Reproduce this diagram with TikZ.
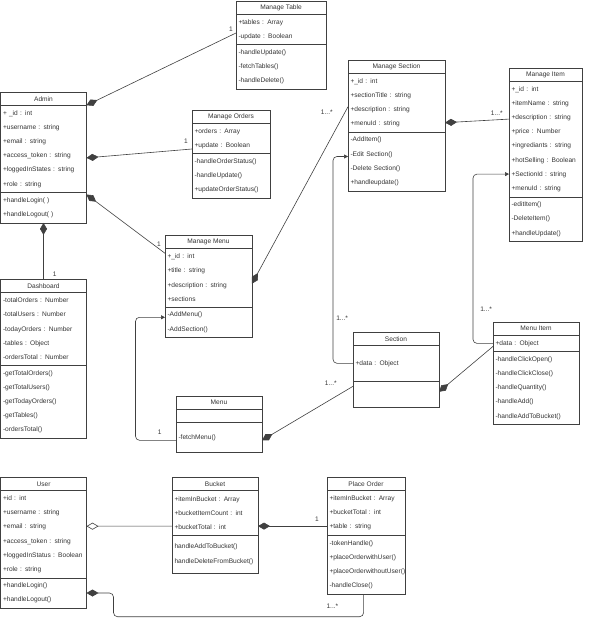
\documentclass[tikz,border=0pt]{standalone}
\usepackage{fontspec}
\setmainfont{Liberation Sans}
\usetikzlibrary{positioning, arrows.meta}

% one class box: name, top left, width, title, attr height, attrs, method height, methods
\newcommand{\umlclass}[8]{%
  \pgfmathsetlengthmacro{\clstw}{#3-5}%
  \node[clshead, minimum width=#3pt] (#1) at (#2) {#4};
  \node[clspart, text width=\clstw, minimum height=#5pt, below=0pt of #1] (#1-attr) {#6};
  \node[clspart, text width=\clstw, minimum height=#7pt, below=0pt of #1-attr] (#1-meth) {#8};
}

\begin{document}
\begin{tikzpicture}[x=1pt, y=-1pt,
  every node/.style={font=\fontsize{6.6}{14.2}\selectfont, text=black!80},
  clshead/.style={draw=black!75, line width=0.6pt, anchor=north west,
    minimum height=13.3pt, inner sep=0pt, outer sep=0pt},
  clspart/.style={draw=black!75, line width=0.6pt, align=left,
    inner xsep=2.5pt, inner ysep=0pt, outer sep=0pt},
  lbl/.style={inner sep=1pt},
  comp/.style={{Diamond[length=12pt, width=7pt]}-, draw=black!75, line width=0.6pt},
  aggr/.style={{Diamond[open, length=12pt, width=7pt]}-, draw=black!75, line width=0.6pt},
  assoc/.style={-{Triangle[length=4pt, width=4pt]}, draw=black!75, line width=0.6pt,
    rounded corners=4pt}
]
\useasboundingbox (0,0) rectangle (595,631);

\umlclass{admin}{0.5,92}{86}{Admin}{87.2}{+ \_id : int\\+username : string\\+email : string\\+access\_token : string\\+loggedInStates : string\\+role : string}{30.4}{+handleLogin( )\\+handleLogout( )}
\umlclass{dashboard}{0.5,279}{86}{Dashboard}{73}{-totalOrders : Number\\-totalUsers : Number\\-todayOrders : Number\\-tables : Object\\-ordersTotal : Number}{73}{-getTotalOrders()\\-getTotalUsers()\\-getTodayOrders()\\-getTables()\\-ordersTotal()}
\umlclass{mtable}{236,1}{90}{Manage Table}{30.4}{+tables : Array\\-update : Boolean}{44.6}{-handleUpdate()\\-fetchTables()\\-handleDelete()}
\umlclass{morders}{192,110}{78}{Manage Orders}{30.4}{+orders : Array\\+update : Boolean}{44.6}{-handleOrderStatus()\\-handleUpdate()\\+updateOrderStatus()}
\umlclass{mmenu}{165,235}{87}{Manage Menu}{58.8}{+\_id : int\\+title : string\\+description : string\\+sections}{30.4}{-AddMenu()\\-AddSection()}
\umlclass{msection}{348,60}{97}{Manage Section}{58.8}{+\_id : int\\+sectionTitle : string\\+description : string\\+menuId : string}{58.8}{-AddItem()\\-Edit Section()\\-Delete Section()\\+handleupdate()}
\umlclass{mitem}{509,68}{73}{Manage Item}{115.6}{+\_id : int\\+itemName : string\\+description : string\\+price : Number\\+ingrediants : string\\+hotSelling : Boolean\\+SectionId : string\\+menuId : string}{44.6}{-editItem()\\-DeleteItem()\\+handleUpdate()}
\umlclass{section}{353,332}{86}{Section}{36}{+data : Object}{26}{}
\umlclass{menuitem}{493,322}{86}{Menu Item}{16.2}{+data : Object}{73}{-handleClickOpen()\\-handleClickClose()\\-handleQuantity()\\-handleAdd()\\-handleAddToBucket()}
\umlclass{menu}{176,396}{86}{Menu}{13}{}{30}{-fetchMenu()}
\umlclass{user}{0.5,477.3}{86}{User}{87.2}{+id : int\\+username : string\\+email : string\\+access\_token : string\\+loggedInStatus : Boolean\\+role : string}{30.4}{+handleLogin()\\+handleLogout()}
\umlclass{bucket}{172,477.3}{86}{Bucket}{44.6}{+itemInBucket : Array\\+bucketItemCount : int\\+bucketTotal : int}{38}{handleAddToBucket()\\handleDeleteFromBucket()}
\umlclass{porder}{327,477.3}{78}{Place Order}{44.6}{+itemInBucket : Array\\+bucketTotal : int\\+table : string}{58.8}{-tokenHandle()\\+placeOrderwithUser()\\+placeOrderwithoutUser()\\-handleClose()}

% admin side
\draw[comp] (admin.south east) -- ([yshift=-3.5pt]mtable-attr.west)
  node[lbl, anchor=south east, xshift=-2pt] (n-mtable) {1};
\draw[comp] ([yshift=-9pt]admin-attr.east) -- ([yshift=-10.5pt]morders-attr.west)
  node[lbl, anchor=south east, xshift=-3pt, yshift=4pt] (n-morders) {1};
\draw[comp] ([yshift=-2pt]admin-meth.north east) -- ([yshift=-5pt]mmenu-attr.north west)
  node[lbl, anchor=south east, xshift=-3pt, yshift=6pt] (n-mmenu) {1};
\draw[comp] (admin-meth.south) -- (dashboard.north)
  node[lbl, anchor=south west, xshift=8pt, yshift=1pt] (n-dash) {1};

% menu, sections, items
\draw[comp] ([yshift=-6pt]mmenu-attr.east) -- ([yshift=-4pt]msection-attr.west)
  node[lbl, anchor=north east, xshift=-14pt, yshift=-2pt] (n-msection) {1...*};
\draw[comp] ([yshift=-20pt]msection-attr.east) -- ([yshift=20pt]mitem-attr.west)
  node[lbl, anchor=south east, xshift=-5pt, yshift=2pt] (n-mitem) {1...*};
\draw[assoc] (section-attr.west) -- ++(-20,0) |- ([yshift=5pt]msection-meth.west)
  node[lbl, pos=0.11, anchor=west, xshift=2pt] (n-section) {1...*};
\draw[assoc] (menuitem-attr.west) -- ++(-20,0) |- ([yshift=-35pt]mitem-attr.west)
  node[lbl, pos=0.1, anchor=west, xshift=6pt] (n-menuitem) {1...*};
\draw[assoc] ([yshift=-3pt]menu-meth.west) -- ++(-40.5,0)
  node[lbl, pos=0.4, above=5pt] (n-menu) {1} |- ([yshift=5pt]mmenu-meth.west);
\draw[comp] ([yshift=-3pt]menu-meth.east) -- ([yshift=8pt]section-meth.west)
  node[lbl, anchor=south east, xshift=-15pt] (n-sec2) {1...*};
\draw[comp] ([yshift=2.5pt]section-meth.east) -- ([yshift=-3pt]menuitem-attr.west);

% user side
\draw[aggr] ([yshift=8pt]user-attr.east) -- ([yshift=-13.2pt]bucket-attr.west);
\draw[comp] ([yshift=-13.2pt]bucket-attr.east) -- ([yshift=-13.2pt]porder-attr.west)
  node[lbl, anchor=south east, xshift=-7pt, yshift=3pt] (n-porder) {1};
\draw[comp, rounded corners=4pt] (user-meth.east) -- ++(27,0) -- ++(0,23.7)
  -| ([xshift=-2.4pt]porder-meth.south)
  node[lbl, anchor=north east, xshift=-24pt, yshift=-9pt] (n-user) {1...*};
\end{tikzpicture}
\end{document}
